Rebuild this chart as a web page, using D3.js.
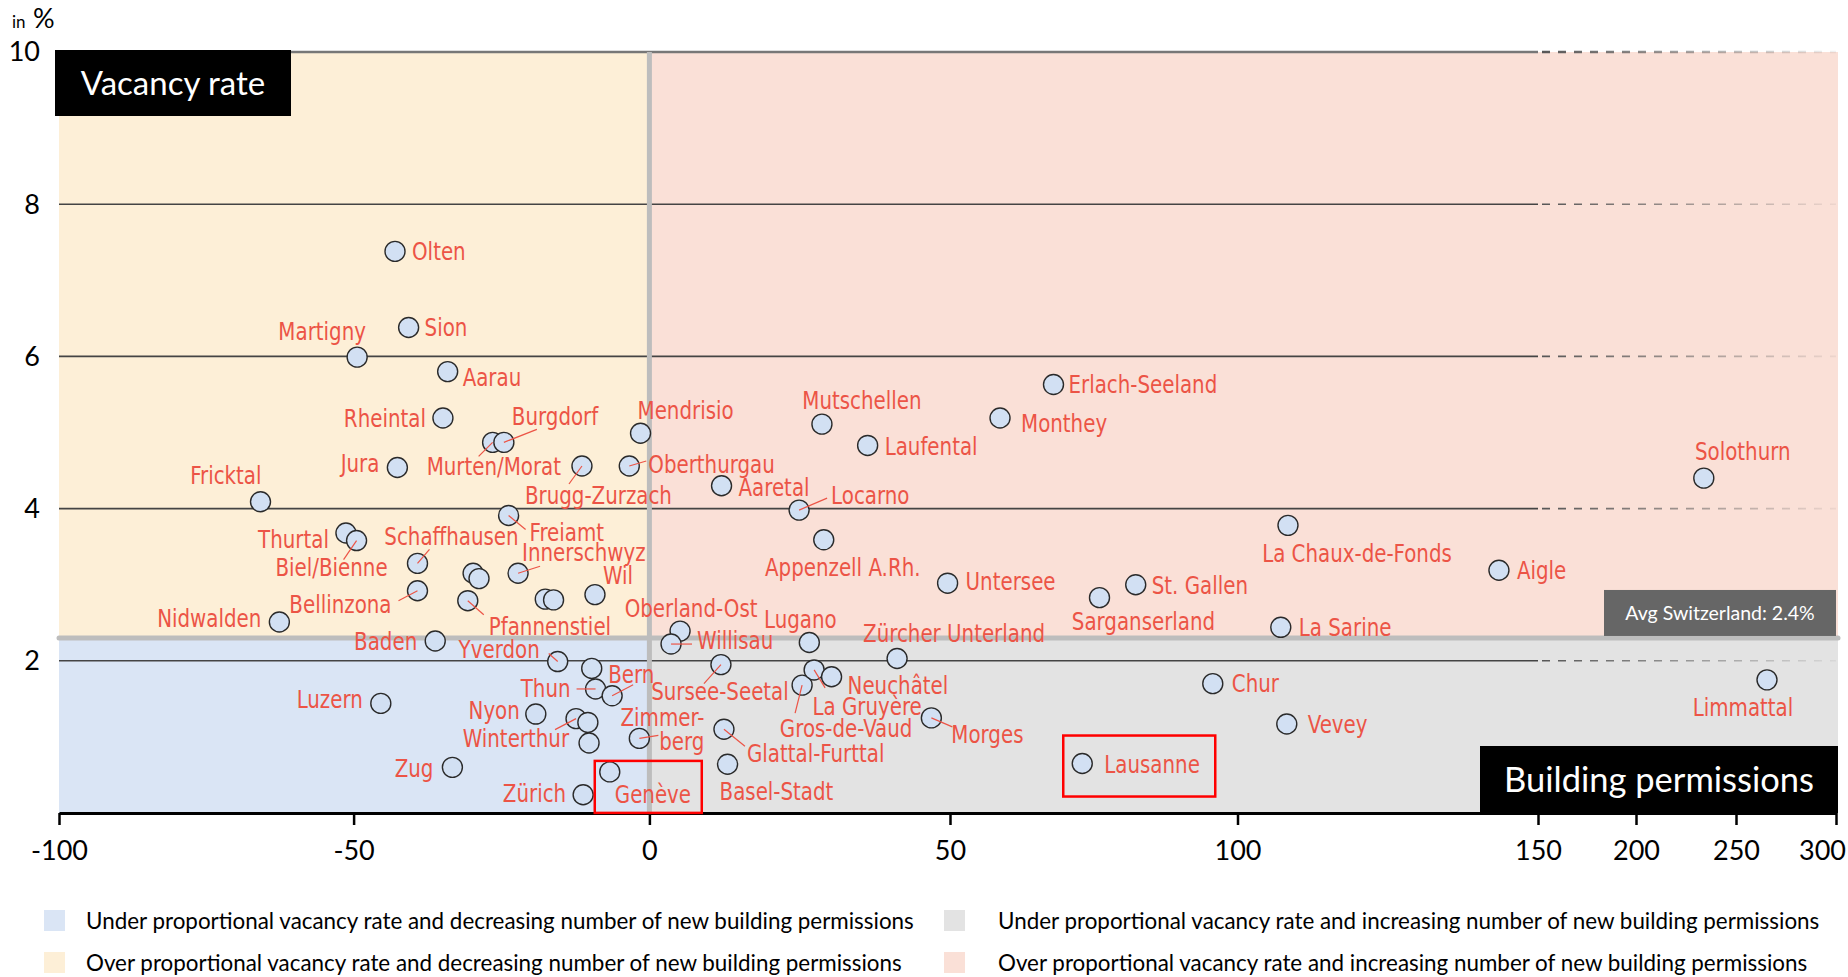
<!DOCTYPE html>
<html>
<head>
<meta charset="utf-8">
<script src="https://cdn.jsdelivr.net/npm/d3@7"></script>
<style>
    html, body { margin: 0; padding: 0; background: #fff; }
    svg { display: block; }
</style>
</head>
<body>
<svg id="chart" width="1848" height="977"></svg>
<script>
// ---- Data
const regions = [
    'Olten', 'Sion', 'Martigny', 'Aarau', 'Rheintal', 'Murten/Morat', 'Burgdorf', 'Jura',
    'Brugg-Zurzach', 'Mendrisio', 'Oberthurgau', 'Fricktal', 'Freiamt', 'Thurtal', 'Biel/Bienne',
    'Schaffhausen', '', '', 'Innerschwyz', 'Bellinzona', 'Pfannenstiel', '', '', 'Wil',
    'Nidwalden', 'Baden', 'Oberland-Ost', 'Willisau', 'Yverdon', '', 'Thun', 'Bern', 'Nyon',
    'Winterthur', '', '', 'Zimmerberg', 'Luzern', 'Zug', 'Zürich', 'Genève', 'Sursee-Seetal',
    'Glattal-Furttal', 'Basel-Stadt', 'Mutschellen', 'Laufental', 'Aaretal', 'Locarno',
    'Appenzell A.Rh.', 'Untersee', 'Lugano', 'Zürcher Unterland', 'Gros-de-Vaud', 'La Gruyère',
    'Neuchâtel', 'Morges', 'Monthey', 'Erlach-Seeland', 'Sarganserland', 'St. Gallen', 'Lausanne',
    'La Chaux-de-Fonds', 'La Sarine', 'Chur', 'Vevey', 'Aigle', 'Solothurn', 'Limmattal'
];

// change of new building permissions, in %
const permChange = [
    -43.0, -40.7, -49.4, -34.1, -34.9, -26.5, -24.6, -42.6,
    -11.4, -1.5, -3.4, -65.8, -23.8, -51.3, -49.5,
    -39.2, -29.8, -28.8, -22.2, -39.2, -30.7, -17.6, -16.2, -9.2,
    -62.6, -36.2, 5.1, 3.6, -15.5, -9.75, -9.1, -6.3, -19.2,
    -12.4, -10.4, -10.2, -1.7, -45.4, -33.3, -11.2, -6.7, 11.9,
    12.4, 13.0, 28.7, 36.3, 12.0, 24.9,
    29.0, 49.6, 26.6, 41.2, 25.4, 27.4,
    30.3, 46.9, 58.7, 68.0, 76.0, 82.3, 73.0,
    108.4, 107.2, 95.7, 108.2, 143.5, 233.9, 265.5
];

// vacancy rate, in %
const vacancy = [
    7.38, 6.38, 5.99, 5.80, 5.19, 4.87, 4.87, 4.54,
    4.56, 4.99, 4.56, 4.09, 3.91, 3.68, 3.58,
    3.28, 3.15, 3.08, 3.15, 2.92, 2.79, 2.81, 2.80, 2.87,
    2.51, 2.26, 2.39, 2.22, 1.99, 1.90, 1.63, 1.54, 1.30,
    1.24, 1.19, 0.92, 0.98, 1.44, 0.60, 0.24, 0.54, 1.95,
    1.10, 0.64, 5.11, 4.83, 4.30, 3.98,
    3.59, 3.02, 2.24, 2.03, 1.68, 1.88,
    1.79, 1.25, 5.19, 5.63, 2.83, 3.00, 0.65,
    3.78, 2.44, 1.70, 1.17, 3.19, 4.40, 1.75
];

const xTicks = [-100, -50, 0, 50, 100, 150, 200, 250, 300];
const yTicks = [2, 4, 6, 8, 10];
const avgLine = 2.3;
const avgText = 'Avg Switzerland: 2.4%';
const highlighted = ['Genève', 'Lausanne'];

const legendLabels = [
    'Under proportional vacancy rate and decreasing number of new building permissions',
    'Under proportional vacancy rate and increasing number of new building permissions',
    'Over proportional vacancy rate and decreasing number of new building permissions',
    'Over proportional vacancy rate and increasing number of new building permissions'
];

// ---- Label placement: [anchor, dx, dy, leaderX, leaderY]
const labelLayout = {
    'Olten': ['start', 17, 0],
    'Sion': ['start', 16, 0],
    'Martigny': ['middle', -35, -26],
    'Aarau': ['start', 15, 6],
    'Rheintal': ['end', -17, 0],
    'Murten/Morat': ['start', -66, 24, -14, 14],
    'Burgdorf': ['start', 8, -26, 33, -13],
    'Jura': ['end', -18, -4],
    'Brugg-Zurzach': ['start', -57, 29, -13, 18],
    'Mendrisio': ['start', -3, -23],
    'Oberthurgau': ['start', 19, -2, 17, -5],
    'Fricktal': ['end', 1, -27],
    'Freiamt': ['start', 21, 17, 17, 14],
    'Thurtal': ['end', -17, 6],
    'Biel/Bienne': ['middle', -25, 27, -13, 19],
    'Schaffhausen': ['middle', 34, -27, 12, -14],
    'Innerschwyz': ['start', 4, -21, 22, -7],
    'Bellinzona': ['end', -26, 13, -19, 10],
    'Pfannenstiel': ['start', 21, 25, 16, 14],
    'Wil': ['start', 8, -19],
    'Nidwalden': ['end', -18, -4],
    'Baden': ['end', -18, 0],
    'Oberland-Ost': ['middle', 11, -23],
    'Willisau': ['start', 26, -4, 21, 0],
    'Yverdon': ['end', -18, -12, -9, -8],
    'Thun': ['end', -25, -1, -19, 0],
    'Bern': ['start', -4, -22, 21, -11],
    'Nyon': ['end', -16, -4],
    'Winterthur': ['end', -7, 20, -21, 11],
    'Zimmerberg': ['end', 65, -21, 19, -3],
    'Luzern': ['end', -18, -4],
    'Zug': ['end', -19, 1],
    'Zürich': ['end', -17, -2],
    'Genève': ['start', 5, 22],
    'Sursee-Seetal': ['middle', -1, 27, -17, 19],
    'Glattal-Furttal': ['start', 23, 24, 21, 17],
    'Basel-Stadt': ['start', -8, 27],
    'Mutschellen': ['middle', 40, -24],
    'Laufental': ['start', 17, 1],
    'Aaretal': ['start', 17, 1],
    'Locarno': ['start', 32, -15, 28, -12],
    'Appenzell A.Rh.': ['middle', 19, 27],
    'Untersee': ['start', 18, -2],
    'Lugano': ['middle', -9, -23],
    'Zürcher Unterland': ['middle', 57, -25],
    'Gros-de-Vaud': ['middle', 44, 43, -7, 28],
    'La Gruyère': ['middle', 53, 36, 11, 18],
    'Neuchâtel': ['start', 16, 8],
    'Morges': ['start', 20, 16, 21, 9],
    'Monthey': ['start', 21, 5],
    'Erlach-Seeland': ['start', 15, 0],
    'Sarganserland': ['middle', 44, 24],
    'St. Gallen': ['start', 16, 0],
    'Lausanne': ['start', 22, 1],
    'La Chaux-de-Fonds': ['middle', 69, 28],
    'La Sarine': ['start', 18, 0],
    'Chur': ['start', 19, 0],
    'Vevey': ['start', 21, 0],
    'Aigle': ['start', 18, 0],
    'Solothurn': ['middle', 39, -27],
    'Limmattal': ['middle', -24, 27]
};
const labelLines = { 'Zimmerberg': ['Zimmer-', 'berg'] };
// red frames around highlighted regions, relative to the point: [x, y, w, h]
const frameLayout = { 'Genève': [-15, -11, 107, 52], 'Lausanne': [-19, -28, 152, 61] };

// ---- Colours & fonts
const quadColors = { underDec: '#dae5f5', underInc: '#e3e3e3', overDec: '#fdefd7', overInc: '#fae0d7' };
const legendColors = [quadColors.underDec, quadColors.underInc, quadColors.overDec, quadColors.overInc];
const labelColor = '#ec5446';
const labelFont = "'Liberation Sans Narrow', 'Arial Narrow', 'DejaVu Sans Condensed', sans-serif";
const labelSqueeze = 0.9;   // narrow the condensed font a bit more
const mainFont = "Lato, 'Open Sans', sans-serif";

const points = regions.map((name, i) => ({ name, x: permChange[i], y: vacancy[i] }));

const svg = d3.select('#chart');

// ---- Scales (axis spacing is uneven and compressed above 150)
const x = d3.scaleLinear()
    .domain(xTicks)
    .range([59, 353.6, 649.4, 950, 1237.5, 1538, 1636, 1736, 1836]);
const y = d3.scaleLinear().domain([0, 10]).range([813, 52]);

// ---- Quadrant backgrounds
const quads = [
    { x0: -100, x1: 0, y0: avgLine, y1: 10, c: quadColors.overDec },
    { x0: 0, x1: 300, y0: avgLine, y1: 10, c: quadColors.overInc },
    { x0: -100, x1: 0, y0: 0, y1: avgLine, c: quadColors.underDec },
    { x0: 0, x1: 300, y0: 0, y1: avgLine, c: quadColors.underInc }
];
svg.append('g').selectAll('rect')
    .data(quads)
    .join('rect')
    .attr('x', d => x(d.x0))
    .attr('y', d => y(d.y1))
    .attr('width', d => x(d.x1) - x(d.x0) + (d.x1 === 300 ? 2 : 0))
    .attr('height', d => y(d.y0) - y(d.y1))
    .attr('fill', d => d.c);

// ---- Gridlines: solid up to 150, fading dashes beyond
const defs = svg.append('defs');
const grad = defs.append('linearGradient')
    .attr('id', 'fade')
    .attr('gradientUnits', 'userSpaceOnUse')
    .attr('x1', x(150)).attr('x2', x(300))
    .attr('y1', 0).attr('y2', 0);
grad.append('stop').attr('offset', 0).attr('stop-color', '#555').attr('stop-opacity', 1);
grad.append('stop').attr('offset', 1).attr('stop-color', '#555').attr('stop-opacity', 0.08);

const grid = svg.append('g');
grid.selectAll('.solid')
    .data(yTicks)
    .join('line')
    .attr('class', 'solid')
    .attr('x1', x(-100)).attr('x2', x(150))
    .attr('y1', d => y(d)).attr('y2', d => y(d))
    .attr('stroke', d => d === 10 ? '#777' : '#444')
    .attr('stroke-width', d => d === 10 ? 2.5 : 1.6);
grid.selectAll('.dash')
    .data(yTicks)
    .join('line')
    .attr('class', 'dash')
    .attr('x1', x(150) + 4).attr('x2', x(300))
    .attr('y1', d => y(d)).attr('y2', d => y(d))
    .attr('stroke', 'url(#fade)')
    .attr('stroke-width', d => d === 10 ? 2.5 : 1.6)
    .attr('stroke-dasharray', '8,8');

// ---- Average and zero lines
svg.append('line')
    .attr('x1', x(0)).attr('x2', x(0))
    .attr('y1', y(10)).attr('y2', y(0))
    .attr('stroke', '#bdbdbd').attr('stroke-width', 5);
svg.append('line')
    .attr('x1', x(-100)).attr('x2', x(300) + 2)
    .attr('y1', y(avgLine)).attr('y2', y(avgLine))
    .attr('stroke', '#bdbdbd').attr('stroke-width', 5)
    .attr('stroke-linecap', 'round');

// ---- X axis
const xAxis = svg.append('g')
    .attr('transform', `translate(0, ${y(0)})`)
    .call(d3.axisBottom(x).tickValues(xTicks).tickSize(12).tickSizeOuter(0).tickFormat(d => String(d)));
xAxis.select('.domain').attr('stroke', '#000').attr('stroke-width', 3);
xAxis.selectAll('.tick line').attr('stroke', '#000').attr('stroke-width', 2.5);
xAxis.selectAll('.tick text')
    .attr('x', d => d === 300 ? -14 : 0)
    .attr('y', 38).attr('dy', '0.35em')
    .attr('fill', '#000')
    .style('font-family', mainFont)
    .style('font-size', '27px');

// ---- Y labels
svg.append('g').selectAll('text')
    .data(yTicks)
    .join('text')
    .attr('x', 40)
    .attr('y', d => y(d))
    .attr('dy', '0.35em')
    .attr('text-anchor', 'end')
    .style('font-family', mainFont)
    .style('font-size', '27px')
    .text(d => d);

const unit = svg.append('text')
    .attr('x', 12).attr('y', 28)
    .style('font-family', mainFont);
unit.append('tspan').style('font-size', '17px').text('in ');
unit.append('tspan').attr('dx', 3).style('font-size', '27px').text('%');

// ---- Points
svg.append('g').selectAll('circle')
    .data(points)
    .join('circle')
    .attr('cx', d => x(d.x))
    .attr('cy', d => y(d.y))
    .attr('r', 10)
    .attr('fill', '#d2e0f3')
    .attr('stroke', '#2a2a2a')
    .attr('stroke-width', 1.4);

// ---- Leader lines
const withLeader = points.filter(d => d.name && labelLayout[d.name] && labelLayout[d.name].length > 3);
svg.append('g').selectAll('line')
    .data(withLeader)
    .join('line')
    .attr('x1', d => x(d.x))
    .attr('y1', d => y(d.y))
    .attr('x2', d => x(d.x) + labelLayout[d.name][3])
    .attr('y2', d => y(d.y) + labelLayout[d.name][4])
    .attr('stroke', labelColor)
    .attr('stroke-width', 1.2);

// ---- Labels
const labelled = points.filter(d => d.name && labelLayout[d.name]);
const labels = svg.append('g').selectAll('text')
    .data(labelled)
    .join('text')
    .attr('transform', d => {
        const l = labelLayout[d.name];
        return `translate(${x(d.x) + l[1]}, ${y(d.y) + l[2]}) scale(${labelSqueeze}, 1)`;
    })
    .attr('text-anchor', d => labelLayout[d.name][0])
    .attr('fill', labelColor)
    .style('font-family', labelFont)
    .style('font-size', '24.5px');

labels.each(function (d) {
    const lines = labelLines[d.name] || [d.name];
    const t = d3.select(this);
    lines.forEach((line, i) => {
        t.append('tspan')
            .attr('x', 0)
            .attr('dy', i === 0 ? '0.36em' : 24)
            .text(line);
    });
});

// ---- Highlight frames
svg.append('g').selectAll('rect')
    .data(points.filter(d => highlighted.includes(d.name)))
    .join('rect')
    .attr('x', d => x(d.x) + frameLayout[d.name][0])
    .attr('y', d => y(d.y) + frameLayout[d.name][1])
    .attr('width', d => frameLayout[d.name][2])
    .attr('height', d => frameLayout[d.name][3])
    .attr('fill', 'none')
    .attr('stroke', '#f00')
    .attr('stroke-width', 2.5);

// ---- Axis title boxes
function titleBox(bx, by, bw, bh, text, size, fill) {
    const g = svg.append('g');
    g.append('rect')
        .attr('x', bx).attr('y', by)
        .attr('width', bw).attr('height', bh)
        .attr('fill', fill);
    g.append('text')
        .attr('x', bx + bw / 2).attr('y', by + bh / 2)
        .attr('dy', '0.35em')
        .attr('text-anchor', 'middle')
        .attr('fill', '#fff')
        .style('font-family', mainFont)
        .style('font-size', size + 'px')
        .text(text);
}
titleBox(55, 50, 236, 66, 'Vacancy rate', 33, '#000');
titleBox(1480, 746, 358, 67, 'Building permissions', 34.5, '#000');
titleBox(1604, y(avgLine) - 48, 232, 46, avgText, 19.5, '#666');

// ---- Legend
const legend = svg.append('g');
const legendPos = [[44, 910], [944, 910], [44, 952], [944, 952]];
legend.selectAll('rect')
    .data(legendLabels)
    .join('rect')
    .attr('x', (d, i) => legendPos[i][0])
    .attr('y', (d, i) => legendPos[i][1])
    .attr('width', 21).attr('height', 21)
    .attr('fill', (d, i) => legendColors[i]);
legend.selectAll('text')
    .data(legendLabels)
    .join('text')
    .attr('x', (d, i) => legendPos[i][0] + 42 + (i % 2 ? 12 : 0))
    .attr('y', (d, i) => legendPos[i][1] + 11)
    .attr('dy', '0.35em')
    .style('font-family', mainFont)
    .style('font-size', '22.4px')
    .text(d => d);
</script>
</body>
</html>
